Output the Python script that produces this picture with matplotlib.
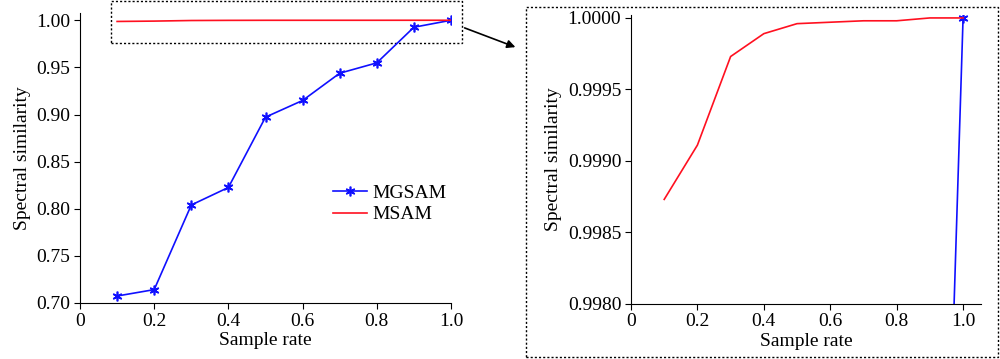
import matplotlib
matplotlib.use("Agg")
import matplotlib.pyplot as plt
from matplotlib.patches import Rectangle

plt.rcParams["font.family"] = ["Liberation Serif", "DejaVu Serif"]
plt.rcParams["font.size"] = 14

# Data
sample_rate = [0.1, 0.2, 0.3, 0.4, 0.5, 0.6, 0.7, 0.8, 0.9, 1.0]
mgsam = [0.7074, 0.7142, 0.8040, 0.8226, 0.8972, 0.9149, 0.9438, 0.9548, 0.9926, 1.0000]
msam = [0.99873, 0.99911, 0.99973, 0.99989, 0.99996, 0.99997, 0.99998, 0.99998, 1.00000, 1.00000]

left_yticks = [0.70, 0.75, 0.80, 0.85, 0.90, 0.95, 1.00]
right_yticks = [0.9980, 0.9985, 0.9990, 0.9995, 1.0000]
xticks = [0, 0.2, 0.4, 0.6, 0.8, 1.0]
xticklabels = ["0", "0.2", "0.4", "0.6", "0.8", "1.0"]

fig = plt.figure(figsize=(10, 3.59), dpi=100)

# Left panel
ax1 = fig.add_axes([0.080, 0.156, 0.371, 0.807])
ax1.plot(sample_rate, mgsam, color="#1010ff", lw=1.2, marker=(6, 2, 0), ms=7, mew=1.2, label="MGSAM")
ax1.plot(sample_rate, msam, color="#ff1020", lw=1.2, label="MSAM")
ax1.set_xlim(0, 1.0)
ax1.set_ylim(0.70, 1.0074)
ax1.set_xticks(xticks)
ax1.set_xticklabels(xticklabels)
ax1.set_yticks(left_yticks)
ax1.set_yticklabels([f"{v:.2f}" for v in left_yticks])
ax1.set_xlabel("Sample rate", labelpad=2)
ax1.set_ylabel("Spectral similarity", labelpad=4)
ax1.spines["top"].set_visible(False)
ax1.spines["right"].set_visible(False)
ax1.tick_params(direction="out", length=4, pad=3)
ax1.legend(loc="upper left", bbox_to_anchor=(0.636, 0.47), frameon=False, handlelength=1.7,
           handletextpad=0.3, labelspacing=0.2, fontsize=14)

# zoom box on the left panel
ax1.add_patch(Rectangle((0.0836, 0.9756), 0.946, 0.0444, fill=False, ec="black",
                        ls=(0, (1.5, 1.5)), lw=1.0, clip_on=False))

# Right panel (zoomed)
ax2 = fig.add_axes([0.631, 0.154, 0.350, 0.804])
ax2.plot(sample_rate, mgsam, color="#1010ff", lw=1.2, marker=(6, 2, 0), ms=7, mew=1.2)
ax2.plot(sample_rate, msam, color="#ff1020", lw=1.2)
ax2.set_xlim(0, 1.054)
ax2.set_ylim(0.9980, 1.00002)
ax2.set_xticks(xticks)
ax2.set_xticklabels(xticklabels)
ax2.set_yticks(right_yticks)
ax2.set_yticklabels([f"{v:.4f}" for v in right_yticks])
ax2.set_xlabel("Sample rate", labelpad=2)
ax2.set_ylabel("Spectral similarity", labelpad=4)
ax2.spines["top"].set_visible(False)
ax2.spines["right"].set_visible(False)
ax2.tick_params(direction="out", length=4, pad=3)

# dashed frame around right panel
fig.patches.append(Rectangle((0.526, 0.006), 0.472, 0.975, transform=fig.transFigure,
                             fill=False, ec="black", ls=(0, (1.5, 1.5)), lw=1.0))

# arrow from zoom box to right panel
fig.add_artist(matplotlib.patches.FancyArrowPatch((0.462, 0.925), (0.518, 0.866),
                                                  transform=fig.transFigure, arrowstyle="-|>",
                                                  mutation_scale=12, color="black", lw=1.2))

plt.savefig("out.png", dpi=100)
